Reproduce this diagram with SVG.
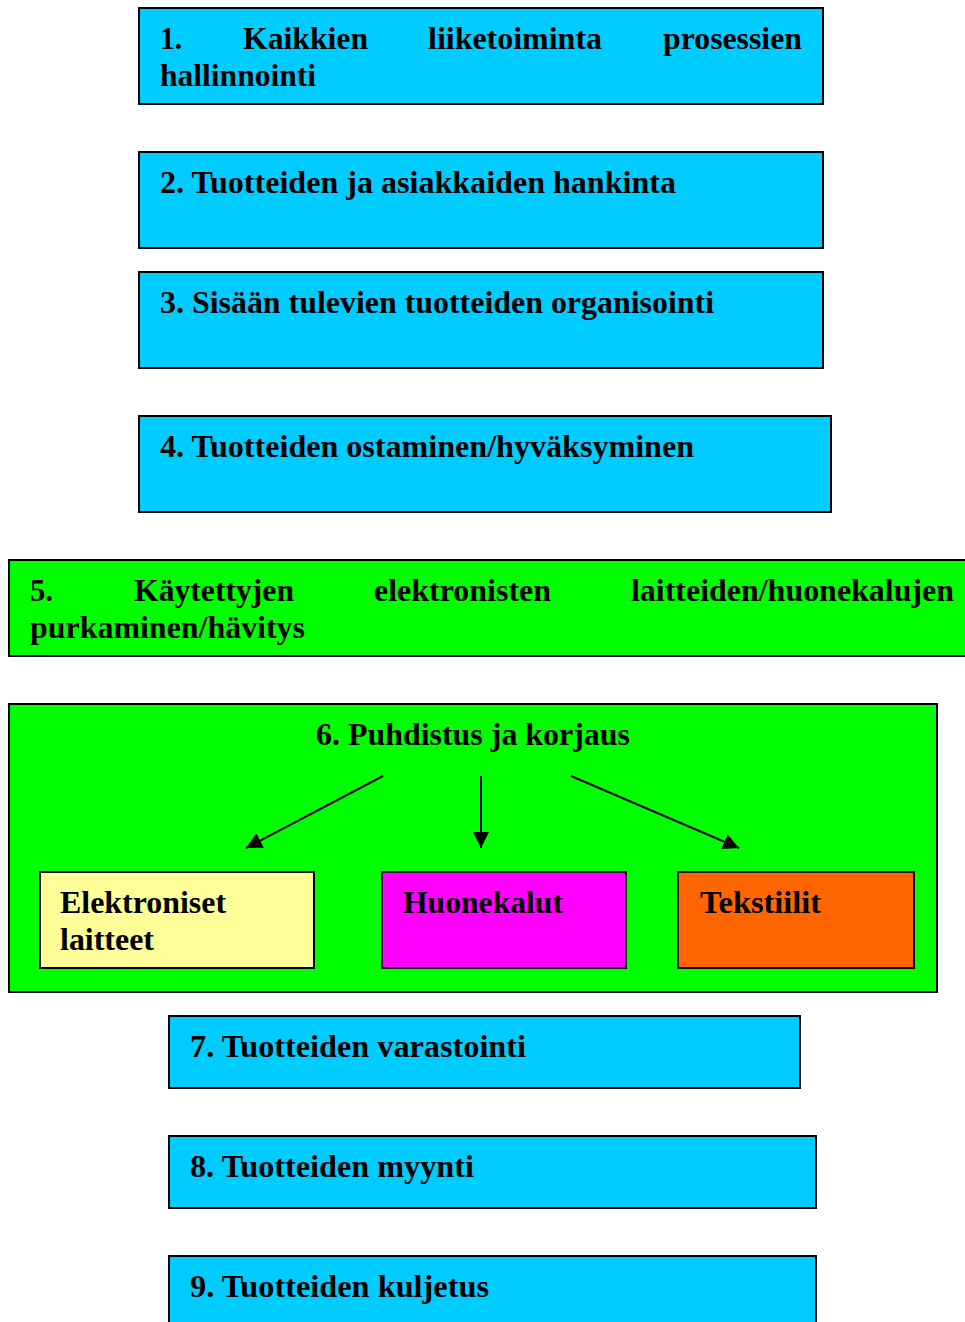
<svg xmlns="http://www.w3.org/2000/svg" width="965" height="1322" viewBox="0 0 965 1322">
<style>
.box{stroke:#000;stroke-width:2}
.blue{fill:#00ccff}
.green{fill:#00ff00}
.t{font-family:"Liberation Serif","Times New Roman",serif;font-weight:bold;font-size:32px;fill:#000}
.conn{stroke:#000;stroke-width:2;fill:none}
</style>
<defs>
<marker id="ah" viewBox="0 0 10 10" refX="10" refY="5" markerWidth="8" markerHeight="8" markerUnits="strokeWidth" orient="auto">
<path d="M0,0 L10,5 L0,10 z" fill="#000"/>
</marker>
</defs>
<rect width="965" height="1322" fill="#fff"/>
<g id="n1">
<rect class="box blue" x="139" y="8" width="684" height="96"/>
<text class="t" x="160" y="49" textLength="22" lengthAdjust="spacingAndGlyphs">1.</text>
<text class="t" x="243" y="49" textLength="125" lengthAdjust="spacingAndGlyphs">Kaikkien</text>
<text class="t" x="428" y="49" textLength="174" lengthAdjust="spacingAndGlyphs">liiketoiminta</text>
<text class="t" x="663" y="49" textLength="139" lengthAdjust="spacingAndGlyphs">prosessien</text>
<text class="t" x="160" y="86" textLength="156" lengthAdjust="spacingAndGlyphs">hallinnointi</text>
</g>
<g id="n2">
<rect class="box blue" x="139" y="152" width="684" height="96"/>
<text class="t" x="160" y="193" textLength="516" lengthAdjust="spacingAndGlyphs">2. Tuotteiden ja asiakkaiden hankinta</text>
</g>
<g id="n3">
<rect class="box blue" x="139" y="272" width="684" height="96"/>
<text class="t" x="160" y="313" textLength="554" lengthAdjust="spacingAndGlyphs">3. Sisään tulevien tuotteiden organisointi</text>
</g>
<g id="n4">
<rect class="box blue" x="139" y="416" width="692" height="96"/>
<text class="t" x="160" y="457" textLength="534" lengthAdjust="spacingAndGlyphs">4. Tuotteiden ostaminen/hyväksyminen</text>
</g>
<g id="n5">
<rect class="box green" x="9" y="560" width="970" height="96"/>
<text class="t" x="30" y="601" textLength="23" lengthAdjust="spacingAndGlyphs">5.</text>
<text class="t" x="134" y="601" textLength="160" lengthAdjust="spacingAndGlyphs">Käytettyjen</text>
<text class="t" x="374" y="601" textLength="177" lengthAdjust="spacingAndGlyphs">elektronisten</text>
<text class="t" x="631" y="601" textLength="323" lengthAdjust="spacingAndGlyphs">laitteiden/huonekalujen</text>
<text class="t" x="30" y="638" textLength="275" lengthAdjust="spacingAndGlyphs">purkaminen/hävitys</text>
</g>
<g id="n6">
<rect class="box green" x="9" y="704" width="928" height="288"/>
<text class="t" x="316" y="745" textLength="314" lengthAdjust="spacingAndGlyphs">6. Puhdistus ja korjaus</text>
</g>
<g id="n6a">
<rect class="box" fill="#ffff99" x="40" y="872" width="274" height="96"/>
<text class="t" x="60" y="913" textLength="166" lengthAdjust="spacingAndGlyphs">Elektroniset</text>
<text class="t" x="60" y="950" textLength="94" lengthAdjust="spacingAndGlyphs">laitteet</text>
</g>
<g id="n6b">
<rect class="box" fill="#ff00ff" x="382" y="872" width="244" height="96"/>
<text class="t" x="403" y="913" textLength="160" lengthAdjust="spacingAndGlyphs">Huonekalut</text>
</g>
<g id="n6c">
<rect class="box" fill="#ff6600" x="678" y="872" width="236" height="96"/>
<text class="t" x="700" y="913" textLength="121" lengthAdjust="spacingAndGlyphs">Tekstiilit</text>
</g>
<g id="connectors">
<line class="conn" x1="383" y1="776" x2="246" y2="848" marker-end="url(#ah)"/>
<line class="conn" x1="481" y1="776" x2="481" y2="848" marker-end="url(#ah)"/>
<line class="conn" x1="571" y1="776" x2="739" y2="848" marker-end="url(#ah)"/>
</g>
<g id="n7">
<rect class="box blue" x="169" y="1016" width="631" height="72"/>
<text class="t" x="190" y="1057" textLength="336" lengthAdjust="spacingAndGlyphs">7. Tuotteiden varastointi</text>
</g>
<g id="n8">
<rect class="box blue" x="169" y="1136" width="647" height="72"/>
<text class="t" x="190" y="1177" textLength="284" lengthAdjust="spacingAndGlyphs">8. Tuotteiden myynti</text>
</g>
<g id="n9">
<rect class="box blue" x="169" y="1256" width="647" height="80"/>
<text class="t" x="190" y="1297" textLength="299" lengthAdjust="spacingAndGlyphs">9. Tuotteiden kuljetus</text>
</g>
</svg>
